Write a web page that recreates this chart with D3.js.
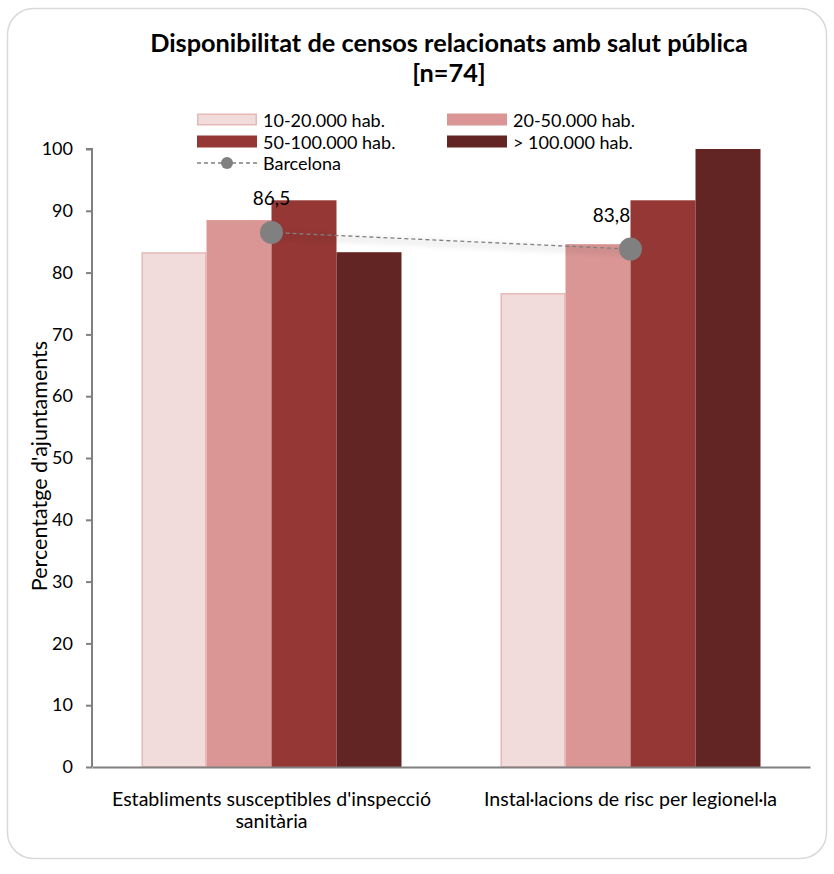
<!DOCTYPE html>
<html>
<head>
<meta charset="utf-8">
<script src="https://cdn.jsdelivr.net/npm/d3@7"></script>
<style>
  html, body { margin: 0; padding: 0; background: #fff; }
  svg { display: block; font-family: Lato, "Open Sans", sans-serif; }
</style>
</head>
<body>
<svg id="chart" width="834" height="874"></svg>
<script>
// Categories and series
const categories = ["Establiments susceptibles d'inspecció sanitària", "Instal·lacions de risc per legionel·la"];
const categoryLines = [["Establiments susceptibles d'inspecció", "sanitària"], ["Instal·lacions de risc per legionel·la"]];
const seriesNames = ["10-20.000 hab.", "20-50.000 hab.", "50-100.000 hab.", "> 100.000 hab."];
const values10_20 = [83.3, 76.7];
const values20_50 = [88.5, 84.6];
const values50_100 = [91.7, 91.7];
const valuesOver100 = [83.3, 100];
const barcelona = [86.5, 83.8];
const barcelonaLabels = ["86,5", "83,8"];
const yTicks = [0, 10, 20, 30, 40, 50, 60, 70, 80, 90, 100];

const seriesValues = [values10_20, values20_50, values50_100, valuesOver100];
const fills = ["#f2dcdb", "#d99694", "#953735", "#632523"];
const strokes = ["#e6b9b8", "none", "none", "none"];

const svg = d3.select("#chart");

// Outer rounded frame
svg.append("rect")
  .attr("x", 7.5).attr("y", 8.5).attr("width", 819).attr("height", 850)
  .attr("rx", 26).attr("ry", 26)
  .attr("fill", "#fff").attr("stroke", "#d9d9d9").attr("stroke-width", 1.5);

const plot = { left: 92, right: 810, top: 149, bottom: 767 };

const x0 = d3.scaleBand().domain(categories).range([plot.left, plot.right]).paddingInner(0).paddingOuter(0);
const inner = 260 / 359;
const x1 = d3.scaleBand().domain(seriesNames).range([0, x0.bandwidth() * inner]);
const groupOffset = x0.bandwidth() * (1 - inner) / 2;
const y = d3.scaleLinear().domain([0, 100]).range([plot.bottom, plot.top]);

// Title
svg.append("text").attr("x", 449).attr("y", 52).attr("text-anchor", "middle")
  .attr("font-weight", "bold").attr("font-size", 25.3).attr("fill", "#000")
  .text("Disponibilitat de censos relacionats amb salut pública");
svg.append("text").attr("x", 449).attr("y", 82).attr("text-anchor", "middle")
  .attr("font-weight", "bold").attr("font-size", 25.3).attr("fill", "#000")
  .text("[n=74]");

// Bars
categories.forEach((cat, ci) => {
  seriesNames.forEach((s, si) => {
    const v = seriesValues[si][ci];
    const hs = strokes[si] !== "none";
    svg.append("rect")
      .attr("x", x0(cat) + groupOffset + x1(s) + (hs ? 0.75 : 0))
      .attr("y", y(v) + (hs ? 0.75 : 0))
      .attr("width", x1.bandwidth() - (hs ? 1.5 : 0))
      .attr("height", y(0) - y(v) - (hs ? 0.75 : 0))
      .attr("fill", fills[si])
      .attr("stroke", strokes[si])
      .attr("stroke-width", 1.5);
  });
});

// Y axis
const yAxis = d3.axisLeft(y).tickValues(yTicks).tickSize(6).tickPadding(13).tickFormat(d3.format("d"));
const gy = svg.append("g").attr("transform", `translate(${plot.left},0)`).call(yAxis);
gy.select(".domain").attr("stroke", "#808080").attr("stroke-width", 2).attr("d", `M-6,${plot.top}H0V${plot.bottom}`);
gy.selectAll(".tick line").attr("stroke", "#808080").attr("stroke-width", 2);
gy.selectAll(".tick text").attr("font-size", 18).attr("fill", "#000").attr("font-family", "Lato, sans-serif");

// X axis baseline
const xAxis = d3.axisBottom(x0).tickSize(0).tickFormat("");
const gx = svg.append("g").attr("transform", `translate(0,${plot.bottom})`).call(xAxis);
gx.select(".domain").attr("stroke", "#808080").attr("stroke-width", 2);

categories.forEach((cat, ci) => {
  const cx = x0(cat) + x0.bandwidth() / 2;
  categoryLines[ci].forEach((line, li) => {
    svg.append("text").attr("x", cx).attr("y", 806 + li * 22)
      .attr("text-anchor", "middle").attr("font-size", 19.6).attr("fill", "#000")
      .text(line);
  });
});

// Y axis title
svg.append("text")
  .attr("transform", `translate(47,466) rotate(-90)`)
  .attr("text-anchor", "middle").attr("font-size", 21.5).attr("fill", "#000")
  .text("Percentatge d'ajuntaments");

// Barcelona line
const pts = categories.map((c, i) => [x0(c) + x0.bandwidth() / 2, y(barcelona[i])]);
const line = d3.line();
svg.append("path").attr("d", line(pts.map(p => [p[0], p[1] + 3])))
  .attr("fill", "none").attr("stroke", "#000").attr("stroke-opacity", 0.05).attr("stroke-width", 8)
  .style("filter", "blur(2px)");
svg.append("path").attr("d", line(pts))
  .attr("fill", "none").attr("stroke", "#808080").attr("stroke-width", 1.3)
  .attr("stroke-dasharray", "4,3");
svg.selectAll("circle.bcn").data(pts).join("circle")
  .attr("class", "bcn").attr("cx", d => d[0]).attr("cy", d => d[1]).attr("r", 11.5)
  .attr("fill", "#808080");
const labelDx = [0, -19];
pts.forEach((p, i) => {
  svg.append("text").attr("x", p[0] + labelDx[i]).attr("y", p[1] - 27)
    .attr("text-anchor", "middle").attr("font-size", 19).attr("fill", "#000")
    .text(barcelonaLabels[i]);
});

// Legend
const legendItems = [
  { name: seriesNames[0], x: 197, y: 120, si: 0 },
  { name: seriesNames[1], x: 447, y: 120, si: 1 },
  { name: seriesNames[2], x: 197, y: 142, si: 2 },
  { name: seriesNames[3], x: 447, y: 142, si: 3 }
];
legendItems.forEach(it => {
  const hs = strokes[it.si] !== "none";
  svg.append("rect")
    .attr("x", it.x + (hs ? 0.75 : 0)).attr("y", it.y - 6.5 + (hs ? 0.75 : 0))
    .attr("width", 60 - (hs ? 1.5 : 0)).attr("height", 12 - (hs ? 1.5 : 0))
    .attr("fill", fills[it.si]).attr("stroke", strokes[it.si]).attr("stroke-width", 1.5);
  svg.append("text").attr("x", it.x + 66).attr("y", it.y + 6.5)
    .attr("font-size", 18).attr("fill", "#000").text(it.name);
});
svg.append("line").attr("x1", 197).attr("x2", 257).attr("y1", 163).attr("y2", 163)
  .attr("stroke", "#808080").attr("stroke-width", 1.3).attr("stroke-dasharray", "4,3");
svg.append("circle").attr("cx", 227).attr("cy", 163).attr("r", 6).attr("fill", "#808080");
svg.append("text").attr("x", 263).attr("y", 169.5).attr("font-size", 18).attr("fill", "#000").text("Barcelona");
</script>
</body>
</html>
